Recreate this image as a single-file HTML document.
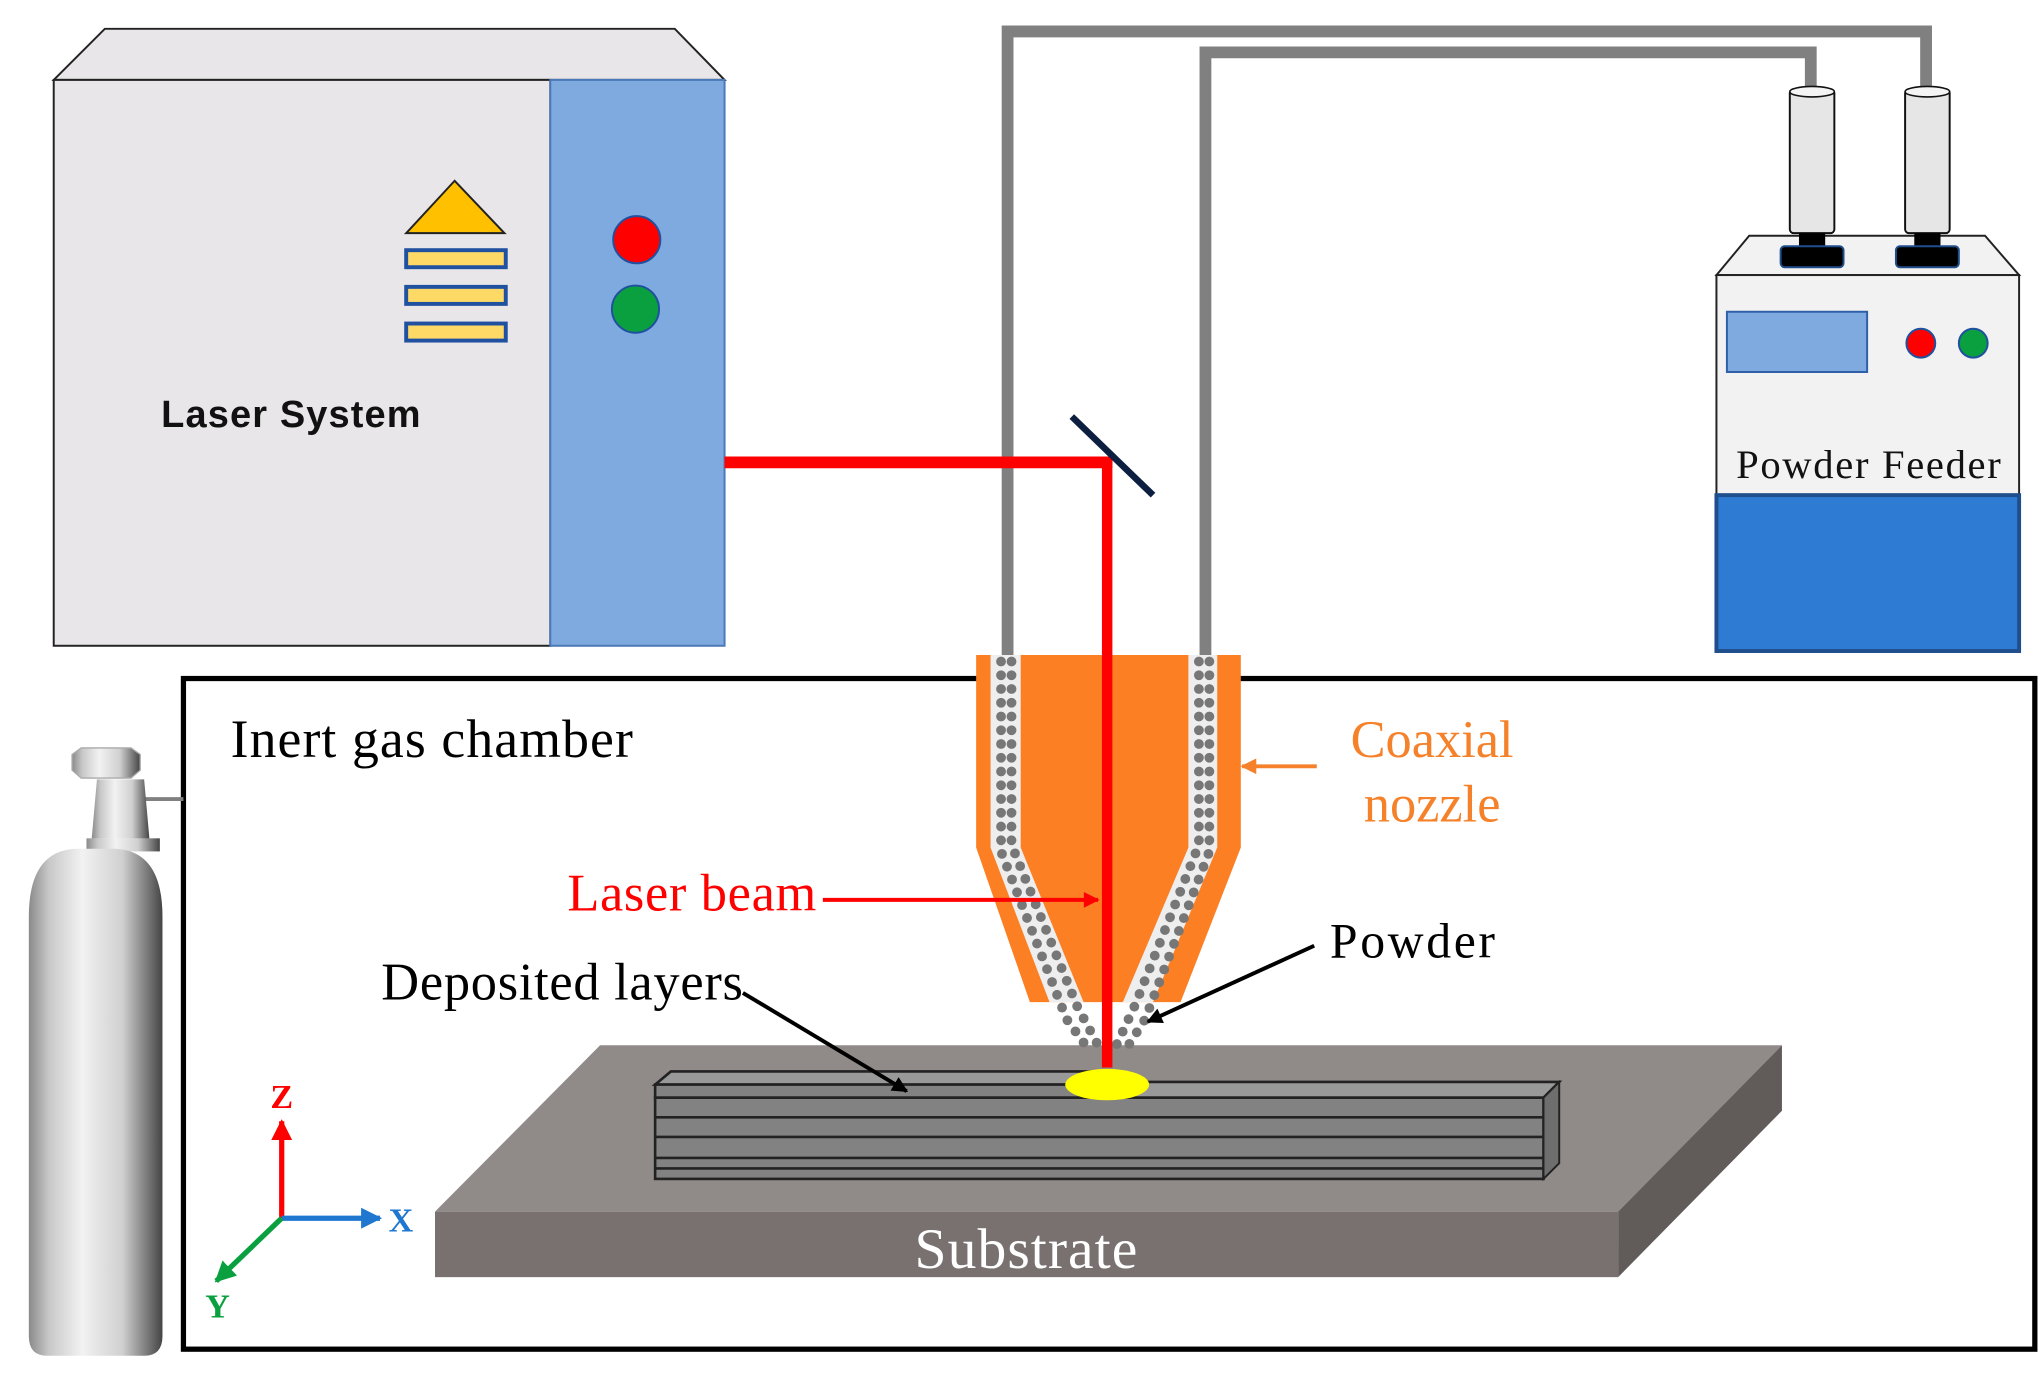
<!DOCTYPE html>
<html><head><meta charset="utf-8"><style>
html,body{margin:0;padding:0;background:#fff;}
svg{display:block;}
.serif{font-family:"Liberation Serif",serif;}
</style></head><body>
<svg width="2044" height="1378" viewBox="0 0 1560 1052" preserveAspectRatio="none" xmlns="http://www.w3.org/2000/svg">
<defs>
<linearGradient id="cyl" x1="0" x2="1" y1="0" y2="0">
<stop offset="0" stop-color="#8a8a8a"/><stop offset="0.15" stop-color="#c8c8c8"/><stop offset="0.4" stop-color="#f2f2f2"/><stop offset="0.7" stop-color="#d0d0d0"/><stop offset="0.92" stop-color="#6a6a6a"/><stop offset="1" stop-color="#444"/>
</linearGradient>
<marker id="ak" viewBox="0 0 10 10" markerWidth="14" markerHeight="12" refX="9" refY="5" orient="auto" markerUnits="userSpaceOnUse"><path d="M0,0 L10,5 L0,10 Z" fill="#000"/></marker>
<marker id="ar" viewBox="0 0 10 10" markerWidth="14" markerHeight="12" refX="9" refY="5" orient="auto" markerUnits="userSpaceOnUse"><path d="M0,0 L10,5 L0,10 Z" fill="#f00"/></marker>
<marker id="ao" viewBox="0 0 10 10" markerWidth="14" markerHeight="12" refX="9" refY="5" orient="auto" markerUnits="userSpaceOnUse"><path d="M0,0 L10,5 L0,10 Z" fill="#f5822a"/></marker>
<marker id="aR" viewBox="0 0 10 10" markerWidth="16" markerHeight="16" refX="9" refY="5" orient="auto" markerUnits="userSpaceOnUse"><path d="M0,0 L10,5 L0,10 Z" fill="#f00"/></marker>
<marker id="aB" viewBox="0 0 10 10" markerWidth="16" markerHeight="16" refX="9" refY="5" orient="auto" markerUnits="userSpaceOnUse"><path d="M0,0 L10,5 L0,10 Z" fill="#1f77d0"/></marker>
<marker id="aG" viewBox="0 0 10 10" markerWidth="16" markerHeight="16" refX="9" refY="5" orient="auto" markerUnits="userSpaceOnUse"><path d="M0,0 L10,5 L0,10 Z" fill="#0aa040"/></marker>
</defs>

<!-- Laser system -->
<polygon points="41,61 80,22 515,22 553,61" fill="#e8e6e8" stroke="#222" stroke-width="1.5"/>
<rect x="41" y="61" width="379" height="432" fill="#e8e6e8" stroke="#222" stroke-width="1.5"/>
<rect x="420" y="61" width="133" height="432" fill="#7faadf" stroke="#4a78b8" stroke-width="1.5"/>
<polygon points="310,178 347,138 385,178" fill="#ffc000" stroke="#222" stroke-width="1.5"/>
<rect x="310" y="191" width="76" height="13" fill="#ffd966" stroke="#2050a0" stroke-width="3"/>
<rect x="310" y="219" width="76" height="13" fill="#ffd966" stroke="#2050a0" stroke-width="3"/>
<rect x="310" y="247" width="76" height="13" fill="#ffd966" stroke="#2050a0" stroke-width="3"/>
<circle cx="486" cy="183" r="18" fill="#f00" stroke="#2050a0" stroke-width="1.5"/>
<circle cx="485" cy="236" r="18" fill="#0aa040" stroke="#2050a0" stroke-width="1.5"/>
<text x="123" y="326" font-family="Liberation Sans, sans-serif" font-weight="bold" font-size="29" fill="#111" textLength="198">Laser System</text>

<!-- gas tubes -->
<polyline points="769,500 769,24 1470,24 1470,68" fill="none" stroke="#808080" stroke-width="9"/>
<polyline points="920,500 920,40 1382,40 1382,68" fill="none" stroke="#808080" stroke-width="9"/>

<!-- powder feeder -->
<polygon points="1310,210 1335,180 1515,180 1541,210" fill="#f2f2f2" stroke="#222" stroke-width="1.5"/>
<rect x="1310" y="210" width="231" height="168" fill="#f2f2f2" stroke="#222" stroke-width="1.5"/>
<rect x="1310" y="378" width="231" height="119" fill="#2e7bd4" stroke="#1f4e8c" stroke-width="3"/>
<rect x="1318" y="238" width="107" height="46" fill="#7faadf" stroke="#2e5fa8" stroke-width="1.5"/>
<circle cx="1466" cy="262" r="11" fill="#f00" stroke="#2050a0" stroke-width="1.5"/>
<circle cx="1506" cy="262" r="11" fill="#0aa040" stroke="#2050a0" stroke-width="1.5"/>
<text x="1325" y="365" class="serif" font-size="31" fill="#111" textLength="202">Powder Feeder</text>
<g>
<rect x="1366" y="68" width="34" height="110" rx="3" fill="#e6e6e6" stroke="#111" stroke-width="1.5"/>
<ellipse cx="1383" cy="70" rx="17" ry="4" fill="#f4f4f4" stroke="#111" stroke-width="1.2"/>
<rect x="1373" y="178" width="20" height="12" fill="#000"/>
<rect x="1359" y="188" width="48" height="16" rx="3" fill="#000" stroke="#1f4e8c" stroke-width="1.5"/>
<rect x="1454" y="68" width="34" height="110" rx="3" fill="#e6e6e6" stroke="#111" stroke-width="1.5"/>
<ellipse cx="1471" cy="70" rx="17" ry="4" fill="#f4f4f4" stroke="#111" stroke-width="1.2"/>
<rect x="1461" y="178" width="20" height="12" fill="#000"/>
<rect x="1447" y="188" width="48" height="16" rx="3" fill="#000" stroke="#1f4e8c" stroke-width="1.5"/>
</g>

<!-- chamber -->
<rect x="140" y="518" width="1413" height="512" fill="none" stroke="#000" stroke-width="4"/>

<!-- gas cylinder -->
<line x1="95" y1="610" x2="140" y2="610" stroke="#808080" stroke-width="3"/>
<rect x="84" y="604" width="14" height="12" fill="#999" stroke="#333" stroke-width="1"/>
<rect x="66" y="640" width="56" height="10" fill="url(#cyl)"/>
<polygon points="74,595 110,595 114,640 70,640" fill="url(#cyl)"/>
<path d="M55,576 L62,571 L100,571 L107,576 L107,588 L100,594 L62,594 L55,588 Z" fill="url(#cyl)" stroke="#aaa" stroke-width="1"/>
<path d="M22,700 Q22,648 60,648 L86,648 Q124,648 124,700 L124,1020 Q124,1035 110,1035 L36,1035 Q22,1035 22,1020 Z" fill="url(#cyl)"/>

<!-- substrate -->
<polygon points="458,798 1360,798 1235,925 332,925" fill="#908a88"/>
<rect x="332" y="925" width="903" height="50" fill="#787170"/>
<polygon points="1235,925 1360,798 1360,848 1235,975" fill="#615b5a"/>
<text x="698" y="968" class="serif" font-size="44" fill="#fff" textLength="170">Substrate</text>

<!-- layers -->
<polygon points="500,828 512,818 845,818 845,828" fill="#999" stroke="#222" stroke-width="2"/>
<polygon points="845,838 1178,838 1190,826 845,826" fill="#999" stroke="#222" stroke-width="2"/>
<rect x="500" y="828" width="345" height="10" fill="#828282" stroke="#222" stroke-width="2"/>
<rect x="500" y="838" width="678" height="62" fill="#828282" stroke="#222" stroke-width="2"/>
<polygon points="1178,838 1190,826 1190,888 1178,900" fill="#6e6e6e" stroke="#222" stroke-width="1.5"/>
<g stroke="#222" stroke-width="2">
<line x1="500" y1="853" x2="1178" y2="853"/><line x1="500" y1="868" x2="1178" y2="868"/>
<line x1="500" y1="884" x2="1178" y2="884"/><line x1="500" y1="892" x2="1178" y2="892"/>
</g>

<!-- nozzle -->
<polygon points="745,500 947,500 947,647 901,765 786,765 745,647" fill="#fd7f23"/>
<polygon points="756,500 779,500 779,647 827,765 801,765 756,647" fill="#eeeeee"/>
<polygon points="907,500 929,500 929,647 880,765 857,765 907,647" fill="#eeeeee"/>
<g stroke="#777" stroke-linecap="round" stroke-width="7.5" stroke-dasharray="0 10.5" fill="none">
<polyline points="764,505 764,650 814,778 830,800"/>
<polyline points="772,505 772,645 822,768 838,798"/>
<polyline points="915,505 915,645 866,768 852,798"/>
<polyline points="923,505 923,650 874,778 860,800"/>
</g>

<!-- laser beam -->
<line x1="553" y1="353" x2="849" y2="353" stroke="#f00" stroke-width="9"/>
<line x1="845" y1="349" x2="845" y2="815" stroke="#f00" stroke-width="8"/>
<line x1="818" y1="318" x2="880" y2="378" stroke="#0d1f40" stroke-width="5"/>
<ellipse cx="845" cy="828" rx="32" ry="12" fill="#ffff00"/>

<!-- labels -->
<text x="176" y="578" class="serif" font-size="41" fill="#000" textLength="307">Inert gas chamber</text>
<text x="1093" y="578" text-anchor="middle" class="serif" font-size="40" fill="#f5822a">Coaxial</text>
<text x="1093" y="627" text-anchor="middle" class="serif" font-size="40" fill="#f5822a">nozzle</text>
<line x1="1005" y1="585" x2="948" y2="585" stroke="#f5822a" stroke-width="3" marker-end="url(#ao)"/>
<text x="433" y="695" class="serif" font-size="40" fill="#f00" textLength="190">Laser beam</text>
<line x1="628" y1="687" x2="838" y2="687" stroke="#f00" stroke-width="3" marker-end="url(#ar)"/>
<text x="1015" y="731" class="serif" font-size="38" fill="#000" textLength="126">Powder</text>
<line x1="1003" y1="722" x2="876" y2="780" stroke="#000" stroke-width="3" marker-end="url(#ak)"/>
<text x="291" y="763" class="serif" font-size="40" fill="#000" textLength="276">Deposited layers</text>
<line x1="567" y1="758" x2="692" y2="833" stroke="#000" stroke-width="3" marker-end="url(#ak)"/>

<!-- axes -->
<line x1="215" y1="930" x2="215" y2="856" stroke="#f00" stroke-width="4" marker-end="url(#aR)"/>
<line x1="215" y1="930" x2="290" y2="930" stroke="#1f77d0" stroke-width="4" marker-end="url(#aB)"/>
<line x1="215" y1="930" x2="165" y2="978" stroke="#0aa040" stroke-width="4" marker-end="url(#aG)"/>
<text x="215" y="846" text-anchor="middle" class="serif" font-weight="bold" font-size="26" fill="#f00">Z</text>
<text x="306" y="940" text-anchor="middle" class="serif" font-weight="bold" font-size="26" fill="#1f77d0">X</text>
<text x="166" y="1006" text-anchor="middle" class="serif" font-weight="bold" font-size="26" fill="#0aa040">Y</text>
</svg>
</body></html>
